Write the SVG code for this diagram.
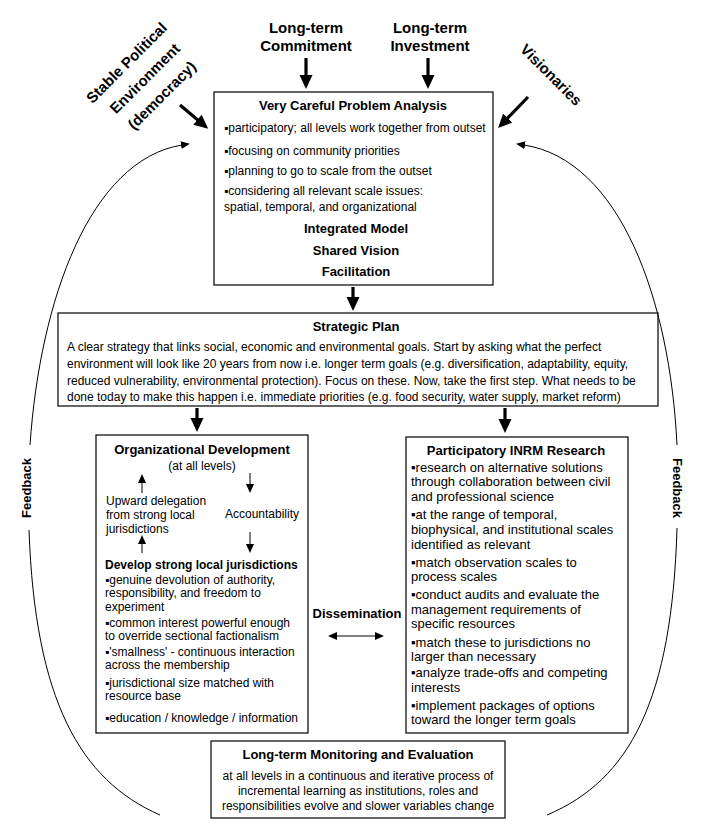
<svg xmlns="http://www.w3.org/2000/svg" width="709" height="839" viewBox="0 0 709 839">
<defs>
<style>
text{font-family:"Liberation Sans",Arial,sans-serif;fill:#000}
.b15{font-size:15px;font-weight:bold}
.b13{font-size:13px;font-weight:bold}
.b12{font-size:12px;font-weight:bold}
.r12{font-size:12px}
.r13{font-size:13px}
.c{text-anchor:middle}
.box{fill:#fff;stroke:#000;stroke-width:1.2}
.thick{stroke:#000;stroke-width:3.2;fill:none}
.thin{stroke:#000;stroke-width:1;fill:none}
</style>
<marker id="bigHead" markerUnits="userSpaceOnUse" markerWidth="16" markerHeight="14" refX="2" refY="6.5" orient="auto">
<path d="M0,0 L14,6.5 L0,13 z" fill="#000"/>
</marker>
<marker id="smallHead" markerUnits="userSpaceOnUse" markerWidth="10" markerHeight="9" refX="1" refY="4" orient="auto-start-reverse">
<path d="M0,0 L9,4 L0,8 z" fill="#000"/>
</marker>
</defs>
<rect width="709" height="839" fill="#fff"/>

<g id="label-commitment">
<text class="b15 c" x="306" y="33">Long-term</text>
<text class="b15 c" x="306" y="51">Commitment</text>
</g>
<g id="label-investment">
<text class="b15 c" x="430" y="33">Long-term</text>
<text class="b15 c" x="430" y="51">Investment</text>
</g>
<g id="label-stable" transform="translate(145,80) rotate(-45)">
<text class="b15 c" x="-1" y="-20">Stable Political</text>
<text class="b15 c" x="1" y="4">Environment</text>
<text class="b15 c" x="1" y="28">(democracy)</text>
</g>
<g id="label-visionaries" transform="translate(551,75) rotate(45)">
<text class="b15 c" x="0" y="5">Visionaries</text>
</g>
<g id="label-feedback-left" transform="translate(31,488) rotate(-90)">
<text class="b13 c" x="0" y="0">Feedback</text>
</g>
<g id="label-feedback-right" transform="translate(673,488) rotate(90)">
<text class="b13 c" x="0" y="0">Feedback</text>
</g>

<g id="problem-analysis">
<rect class="box" x="214" y="92" width="279" height="193"/>
<text class="b13 c" x="353" y="110">Very Careful Problem Analysis</text>
<text class="r12" x="224" y="132">▪participatory; all levels work together from outset</text>
<text class="r12" x="224" y="155">▪focusing on community priorities</text>
<text class="r12" x="224" y="175">▪planning to go to scale from the outset</text>
<text class="r12" x="224" y="195">▪considering all relevant scale issues:</text>
<text class="r12" x="224" y="211">spatial, temporal, and organizational</text>
<text class="b13 c" x="356" y="233">Integrated Model</text>
<text class="b13 c" x="356" y="255">Shared Vision</text>
<text class="b13 c" x="356" y="276">Facilitation</text>
</g>

<g id="strategic-plan">
<rect class="box" x="58" y="313" width="600" height="93"/>
<text class="b13 c" x="356" y="331">Strategic Plan</text>
<text class="r12" x="67" y="351">A clear strategy that links social, economic and environmental goals. Start by asking what the perfect</text>
<text class="r12" x="67" y="368">environment will look like 20 years from now i.e. longer term goals (e.g. diversification, adaptability, equity,</text>
<text class="r12" x="67" y="385">reduced vulnerability, environmental protection). Focus on these. Now, take the first step. What needs to be</text>
<text class="r12" x="67" y="401">done today to make this happen i.e. immediate priorities (e.g. food security, water supply, market reform)</text>
</g>

<g id="organizational-development">
<rect class="box" x="96" y="435" width="212" height="298"/>
<text class="b13 c" x="202" y="454">Organizational Development</text>
<text class="r12 c" x="202" y="470">(at all levels)</text>
<text class="r12" x="106" y="505">Upward delegation</text>
<text class="r12" x="106" y="519">from strong local</text>
<text class="r12" x="106" y="533">jurisdictions</text>
<text class="r12" x="225" y="518">Accountability</text>
<text class="b12" x="105" y="569">Develop strong local jurisdictions</text>
<text class="r12" x="105" y="584">▪genuine devolution of authority,</text>
<text class="r12" x="105" y="597">responsibility,  and freedom to</text>
<text class="r12" x="105" y="611">experiment</text>
<text class="r12" x="105" y="627">▪common interest powerful enough</text>
<text class="r12" x="105" y="640">to override sectional factionalism</text>
<text class="r12" x="105" y="656">▪'smallness' - continuous interaction</text>
<text class="r12" x="105" y="669">across the membership</text>
<text class="r12" x="105" y="687">▪jurisdictional size matched with</text>
<text class="r12" x="105" y="700">resource base</text>
<text class="r12" x="105" y="722">▪education / knowledge / information</text>
</g>

<g id="dissemination">
<text class="b13 c" x="357" y="618">Dissemination</text>
</g>

<g id="inrm-research">
<rect class="box" x="406" y="437" width="222" height="296"/>
<text class="b13 c" x="516" y="455">Participatory INRM Research</text>
<text class="r13" x="411" y="472">▪research on alternative solutions</text>
<text class="r13" x="411" y="486">through collaboration between civil</text>
<text class="r13" x="411" y="501">and professional science</text>
<text class="r13" x="411" y="519">▪at the range of temporal,</text>
<text class="r13" x="411" y="534">biophysical, and institutional scales</text>
<text class="r13" x="411" y="549">identified as relevant</text>
<text class="r13" x="411" y="567">▪match observation scales to</text>
<text class="r13" x="411" y="581">process scales</text>
<text class="r13" x="411" y="599">▪conduct audits and evaluate the</text>
<text class="r13" x="411" y="614">management requirements of</text>
<text class="r13" x="411" y="628">specific resources</text>
<text class="r13" x="411" y="647">▪match these to jurisdictions no</text>
<text class="r13" x="411" y="661">larger than necessary</text>
<text class="r13" x="411" y="677">▪analyze trade-offs and competing</text>
<text class="r13" x="411" y="692">interests</text>
<text class="r13" x="411" y="710">▪implement packages of options</text>
<text class="r13" x="411" y="724">toward the longer term goals</text>
</g>

<g id="monitoring-evaluation">
<rect class="box" x="211" y="741" width="294" height="77"/>
<text class="b13 c" x="358" y="759">Long-term Monitoring and Evaluation</text>
<text class="r12 c" x="358" y="780">at all levels in a continuous and iterative process of</text>
<text class="r12 c" x="358" y="795">incremental learning as institutions, roles and</text>
<text class="r12 c" x="358" y="810">responsibilities evolve and slower variables change</text>
</g>

<g id="connectors">
<line class="thick" x1="306" y1="58" x2="306" y2="77" marker-end="url(#bigHead)"/>
<line class="thick" x1="428" y1="58" x2="428" y2="77" marker-end="url(#bigHead)"/>
<line class="thick" x1="180" y1="105" x2="199" y2="121" marker-end="url(#bigHead)"/>
<line class="thick" x1="528" y1="97" x2="506.4" y2="119.4" marker-end="url(#bigHead)"/>
<line class="thick" x1="353" y1="287" x2="353" y2="299" marker-end="url(#bigHead)"/>
<line class="thick" x1="197" y1="408" x2="197" y2="420" marker-end="url(#bigHead)"/>
<line class="thick" x1="505" y1="408" x2="505" y2="421" marker-end="url(#bigHead)"/>
<line class="thin" x1="142" y1="493" x2="142" y2="482" marker-end="url(#smallHead)"/>
<line class="thin" x1="142" y1="553" x2="142" y2="543" marker-end="url(#smallHead)"/>
<line class="thin" x1="250" y1="473" x2="250" y2="485" marker-end="url(#smallHead)"/>
<line class="thin" x1="250" y1="532" x2="250" y2="545" marker-end="url(#smallHead)"/>
<line class="thin" x1="336" y1="636" x2="376" y2="636" marker-start="url(#smallHead)" marker-end="url(#smallHead)"/>
<path class="thin" d="M160,815 C80,780 35,700 29,530"/>
<path class="thin" d="M30,445 C40,300 90,160 182,145" marker-end="url(#smallHead)"/>
<path class="thin" d="M547,815 C630,780 672,700 677,528"/>
<path class="thin" d="M677,445 C670,300 620,160 524,145" marker-end="url(#smallHead)"/>
</g>
</svg>
